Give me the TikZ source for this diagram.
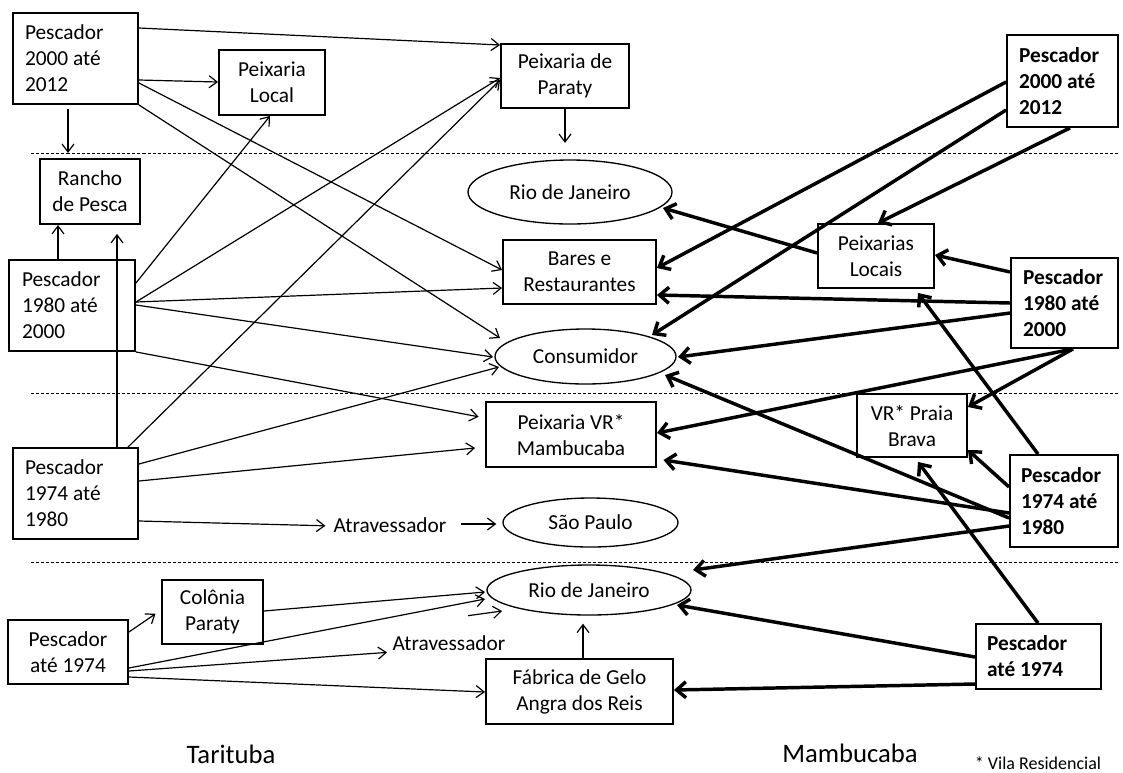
\documentclass[tikz,border=0pt]{standalone}
\usepackage{fontspec}
\setmainfont{Carlito}
\usetikzlibrary{arrows.meta,shapes.geometric,calc}
\begin{document}
\begin{tikzpicture}[x=0.75pt,y=-0.75pt,
  font=\fontsize{16}{19.5}\selectfont,
  bx/.style={draw,line width=1.4pt,inner sep=0pt,align=center},
  lbx/.style={draw,line width=1.4pt,inner ysep=0pt,align=flush left},
  el/.style={draw,ellipse,line width=1pt,inner sep=0pt},
  lbl/.style={inner sep=0pt,anchor=base},
  ta/.style={line width=0.9pt,-{Straight Barb[length=6pt,width=9pt]}},
  ka/.style={line width=2.6pt,-{Straight Barb[length=7pt,width=12pt]}},
  sep/.style={line width=0.6pt,dash pattern=on 2.3pt off 1.5pt}
]
\useasboundingbox (0,0) rectangle (1123,772);

% separators
\draw[sep] (31,153) -- (1118,153);
\draw[sep] (31,393) -- (1118,393);
\draw[sep] (31,562) -- (1118,562);

% ---------- Tarituba (left) ----------
\node[lbx,inner xsep=9pt,text width=75.75pt,minimum height=68.25pt] (pl2000) at (75.5,58.5) {Pescador\\2000 até\\2012};
\node[bx,minimum width=79.5pt,minimum height=48.75pt] (plocal) at (272,82.5) {Peixaria\\Local};
\node[bx,minimum width=75pt,minimum height=48.75pt] (rancho) at (90,191.5) {Rancho\\de Pesca};
\node[lbx,inner xsep=9.75pt,text width=75pt,minimum height=68.25pt] (pl1980) at (72,305.5) {Pescador\\1980 até\\2000};
\node[lbx,inner xsep=9pt,text width=75.75pt,minimum height=68.25pt] (pl1974) at (75.5,493.5) {Pescador\\1974 até\\1980};
\node[bx,minimum width=75.75pt,minimum height=48pt] (colonia) at (212.5,612) {Colônia\\Paraty};
\node[bx,minimum width=90pt,minimum height=48pt] (plate) at (68,652) {Pescador\\até 1974};

% ---------- middle ----------
\node[bx,minimum width=96pt,minimum height=48pt] (ppar) at (565,76) {Peixaria de\\Paraty};
\node[el,minimum width=153pt,minimum height=48pt] (rio1) at (570,192) {Rio de Janeiro};
\node[bx,minimum width=114.75pt,minimum height=48pt] (bares) at (579.5,272) {Bares e\\Restaurantes};
\node[el,minimum width=135.75pt,minimum height=41.25pt] (consum) at (585.5,356.5) {Consumidor};
\node[bx,minimum width=127.5pt,minimum height=48.75pt] (pvr) at (571,434.5) {Peixaria VR*\\Mambucaba};
\node[lbl] (atrav1) at (390,532) {Atravessador};
\node[el,minimum width=131.25pt,minimum height=36.75pt] (sp) at (590.5,522.5) {São Paulo};
\node[el,minimum width=153pt,minimum height=37.5pt] (rio2) at (589,590) {Rio de Janeiro};
\node[lbl] (atrav2) at (449,650) {Atravessador};
\node[bx,minimum width=140.25pt,minimum height=48.75pt] (fabrica) at (579.5,691.5) {Fábrica de Gelo\\Angra dos Reis};

% ---------- Mambucaba (right) ----------
\node[lbx,font=\fontsize{16}{19.5}\selectfont\bfseries,inner xsep=9pt,text width=65.25pt,minimum height=69pt] (pr2000) at (1062.5,81) {Pescador\\2000 até\\2012};
\node[bx,minimum width=87pt,minimum height=48pt] (plocais) at (876,256) {Peixarias\\Locais};
\node[lbx,font=\fontsize{16}{19.5}\selectfont\bfseries,inner xsep=9pt,text width=62.25pt,minimum height=67.5pt] (pr1980) at (1064.5,303) {Pescador\\1980 até\\2000};
\node[bx,minimum width=82.5pt,minimum height=47.25pt] (vrpb) at (912,425.5) {VR* Praia\\Brava};
\node[lbx,font=\fontsize{16}{19.5}\selectfont\bfseries,inner xsep=8.25pt,text width=64.5pt,minimum height=69pt] (pr1974) at (1064,501) {Pescador\\1974 até\\1980};
\node[lbx,font=\fontsize{16}{19.5}\selectfont\bfseries,inner xsep=8.25pt,text width=77.25pt,minimum height=48.75pt] (prate) at (1038.5,656.5) {Pescador\\até 1974};

% labels
\node[lbl,font=\fontsize{20}{24}\selectfont] (tar) at (231,763) {Tarituba};
\node[lbl,font=\fontsize{20}{24}\selectfont] (mam) at (850,762) {Mambucaba};
\node[lbl,font=\fontsize{13.5}{16}\selectfont] (foot) at (1038,769) {* Vila Residencial};

% ---------- thin arrows (Tarituba) ----------
\draw[ta] (pl2000.east |- 0,28) -- (ppar.west |- 0,45);
\draw[ta] (pl2000.east |- 0,80) -- (plocal.west |- 0,82);
\draw[ta] (68,0 |- pl2000.south) ++(0,4) -- ++(0,44);
\draw[ta] (pl2000.east |- 0,83) -- (bares.west |- 0,270);
\draw[ta] (pl2000.south east) -- ($(consum)+(-85.5,-18.5)$);

\draw[ta] (pl1980.east |- 0,283) -- (270,0 |- plocal.south);
\draw[ta] (pl1980.east |- 0,302) -- (ppar.west |- 0,78);
\draw[ta] (pl1980.east |- 0,302) -- (bares.west |- 0,288);
\draw[ta] (pl1980.east |- 0,305) -- ($(consum)+(-92.5,0.5)$);
\draw[ta,shorten >=5pt] (pl1980.south east) -- (pvr.west |- 0,418);
\draw[ta] (58,0 |- pl1980.north) -- (58,0 |- rancho.south);

\draw[ta,shorten >=6.75pt] (117,0 |- pl1974.north) -- (117,0 |- rancho.south);
\draw[ta] (128,0 |- pl1974.north) -- (ppar.west |- 0,80);
\draw[ta] (pl1974.east |- 0,464) -- ($(consum)+(-86.5,10.5)$);
\draw[ta,shorten >=7.5pt] (pl1974.east |- 0,481) -- (pvr.west |- 0,447);
\draw[ta,shorten >=6pt] (pl1974.east |- 0,521) -- (atrav1.west |- 0,526);
\draw[ta,shorten <=10.5pt,shorten >=4.5pt] (atrav1.east |- 0,524) -- (sp.west |- 0,524);

\draw[ta] (ppar.south) -- ++(0,34);

\draw[ta,shorten >=5pt] (plate.east |- 0,632) -- (colonia.west |- 0,610);
\draw[ta] (colonia.east |- 0,611) -- ($(rio2)+(-104,2)$);
\draw[ta] (plate.east |- 0,668) -- ($(rio2)+(-104,9)$);
\draw[ta,shorten >=4pt] (plate.east |- 0,671) -- (atrav2.west |- 0,652);
\draw[ta] ($(atrav2)+(19,-27)$) -- ($(rio2)+(-87,21)$);
\draw[ta] (plate.east |- 0,677) -- (fabrica.west |- 0,692);
\draw[ta,shorten >=6pt] (583,0 |- fabrica.north) -- (583,0 |- rio2.south);

% ---------- thick arrows (Mambucaba) ----------
\draw[ka] (pr2000.west |- 0,82) -- (bares.east |- 0,268);
\draw[ka] (pr2000.west |- 0,110) -- ($(consum)+(66.5,-21.5)$);
\draw[ka] (1070,0 |- pr2000.south) -- (878,0 |- plocais.north);
\draw[ka] (plocais.west |- 0,253) -- ($(rio1)+(93,16)$);

\draw[ka] (pr1980.west |- 0,272) -- (plocais.east |- 0,255);
\draw[ka] (pr1980.west |- 0,303) -- (bares.east |- 0,295);
\draw[ka] (pr1980.west |- 0,313) -- ($(consum)+(92.5,0.5)$);
\draw[ka] (1073,0 |- pr1980.south) -- (vrpb.east |- 0,407);
\draw[ka] (1073,0 |- pr1980.south) -- (pvr.east |- 0,433);

\draw[ka,shorten >=3.75pt] (1038,0 |- pr1974.north) -- (915,0 |- plocais.south);
\draw[ka] (pr1974.west |- 0,487) -- (vrpb.east |- 0,450);
\draw[ka] (pr1974.west |- 0,518) -- ($(consum)+(79.5,18.5)$);
\draw[ka,shorten >=5pt] (pr1974.west |- 0,513) -- (pvr.east |- 0,459);
\draw[ka] (pr1974.west |- 0,526) -- ($(rio2)+(104,-20)$);

\draw[ka,shorten >=3.75pt] (1038,0 |- prate.north) -- (915,0 |- vrpb.south);
\draw[ka] (prate.west |- 0,657) -- ($(rio2)+(88,15)$);
\draw[ka] (prate.west |- 0,684) -- (fabrica.east |- 0,690);
\end{tikzpicture}
\end{document}
